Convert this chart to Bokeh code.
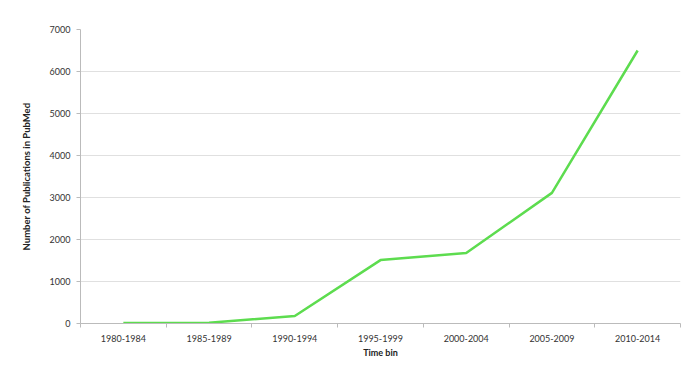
from bokeh.plotting import figure
from bokeh.models import FixedTicker, Range1d
from bokeh.embed import file_html
from bokeh.resources import INLINE

categories = ["1980-1984", "1985-1989", "1990-1994", "1995-1999", "2000-2004", "2005-2009", "2010-2014"]
publications = [10, 20, 180, 1510, 1680, 3110, 6500]
y_ticks = [0, 1000, 2000, 3000, 4000, 5000, 6000, 7000]

xs = [i + 0.5 for i in range(len(categories))]

p = figure(width=700, height=367, output_backend="svg", toolbar_location=None,
           x_range=Range1d(0, len(categories)), y_range=Range1d(0, 7000),
           min_border_left=80, min_border_right=20, min_border_top=29, min_border_bottom=44)
p.outline_line_color = None
p.background_fill_color = "white"
p.border_fill_color = "white"

p.line(xs, publications, line_color="#5ddc4f", line_width=2.5)

font = "Lato"
p.xaxis.ticker = FixedTicker(ticks=xs, minor_ticks=list(range(len(categories) + 1)))
p.xaxis.major_label_overrides = {x: c for x, c in zip(xs, categories)}
p.xaxis.major_tick_line_color = None
p.xaxis.minor_tick_line_color = "#bbbbbb"
p.xaxis.minor_tick_out = 4
p.xaxis.minor_tick_in = 0
p.xaxis.axis_line_color = "#bbbbbb"
p.xaxis.axis_label = "Time bin"
p.xaxis.axis_label_text_font_style = "bold"
p.xaxis.axis_label_text_font_size = "9px"
p.xaxis.axis_label_text_font = font
p.xaxis.axis_label_text_color = "#222222"
p.xaxis.axis_label_standoff = 2
p.xaxis.major_label_text_font = font
p.xaxis.major_label_text_font_size = "9px"
p.xaxis.major_label_text_color = "#333333"
p.xaxis.major_label_standoff = 5

p.yaxis.ticker = FixedTicker(ticks=y_ticks)
p.yaxis.minor_tick_line_color = None
p.yaxis.major_tick_line_color = "#bbbbbb"
p.yaxis.major_tick_out = 4
p.yaxis.major_tick_in = 0
p.yaxis.axis_line_color = "#bbbbbb"
p.yaxis.axis_label = "Number of Publications in PubMed"
p.yaxis.axis_label_text_font_style = "bold"
p.yaxis.axis_label_text_font_size = "9.5px"
p.yaxis.axis_label_text_font = font
p.yaxis.axis_label_text_color = "#222222"
p.yaxis.axis_label_standoff = 15
p.yaxis.major_label_text_font = font
p.yaxis.major_label_text_font_size = "9px"
p.yaxis.major_label_text_color = "#333333"
p.yaxis.major_label_standoff = 6

p.xgrid.grid_line_color = None
p.ygrid.grid_line_color = "#e0e0e0"
p.ygrid.grid_line_width = 1

open("out.html", "w").write(file_html(p, INLINE))
